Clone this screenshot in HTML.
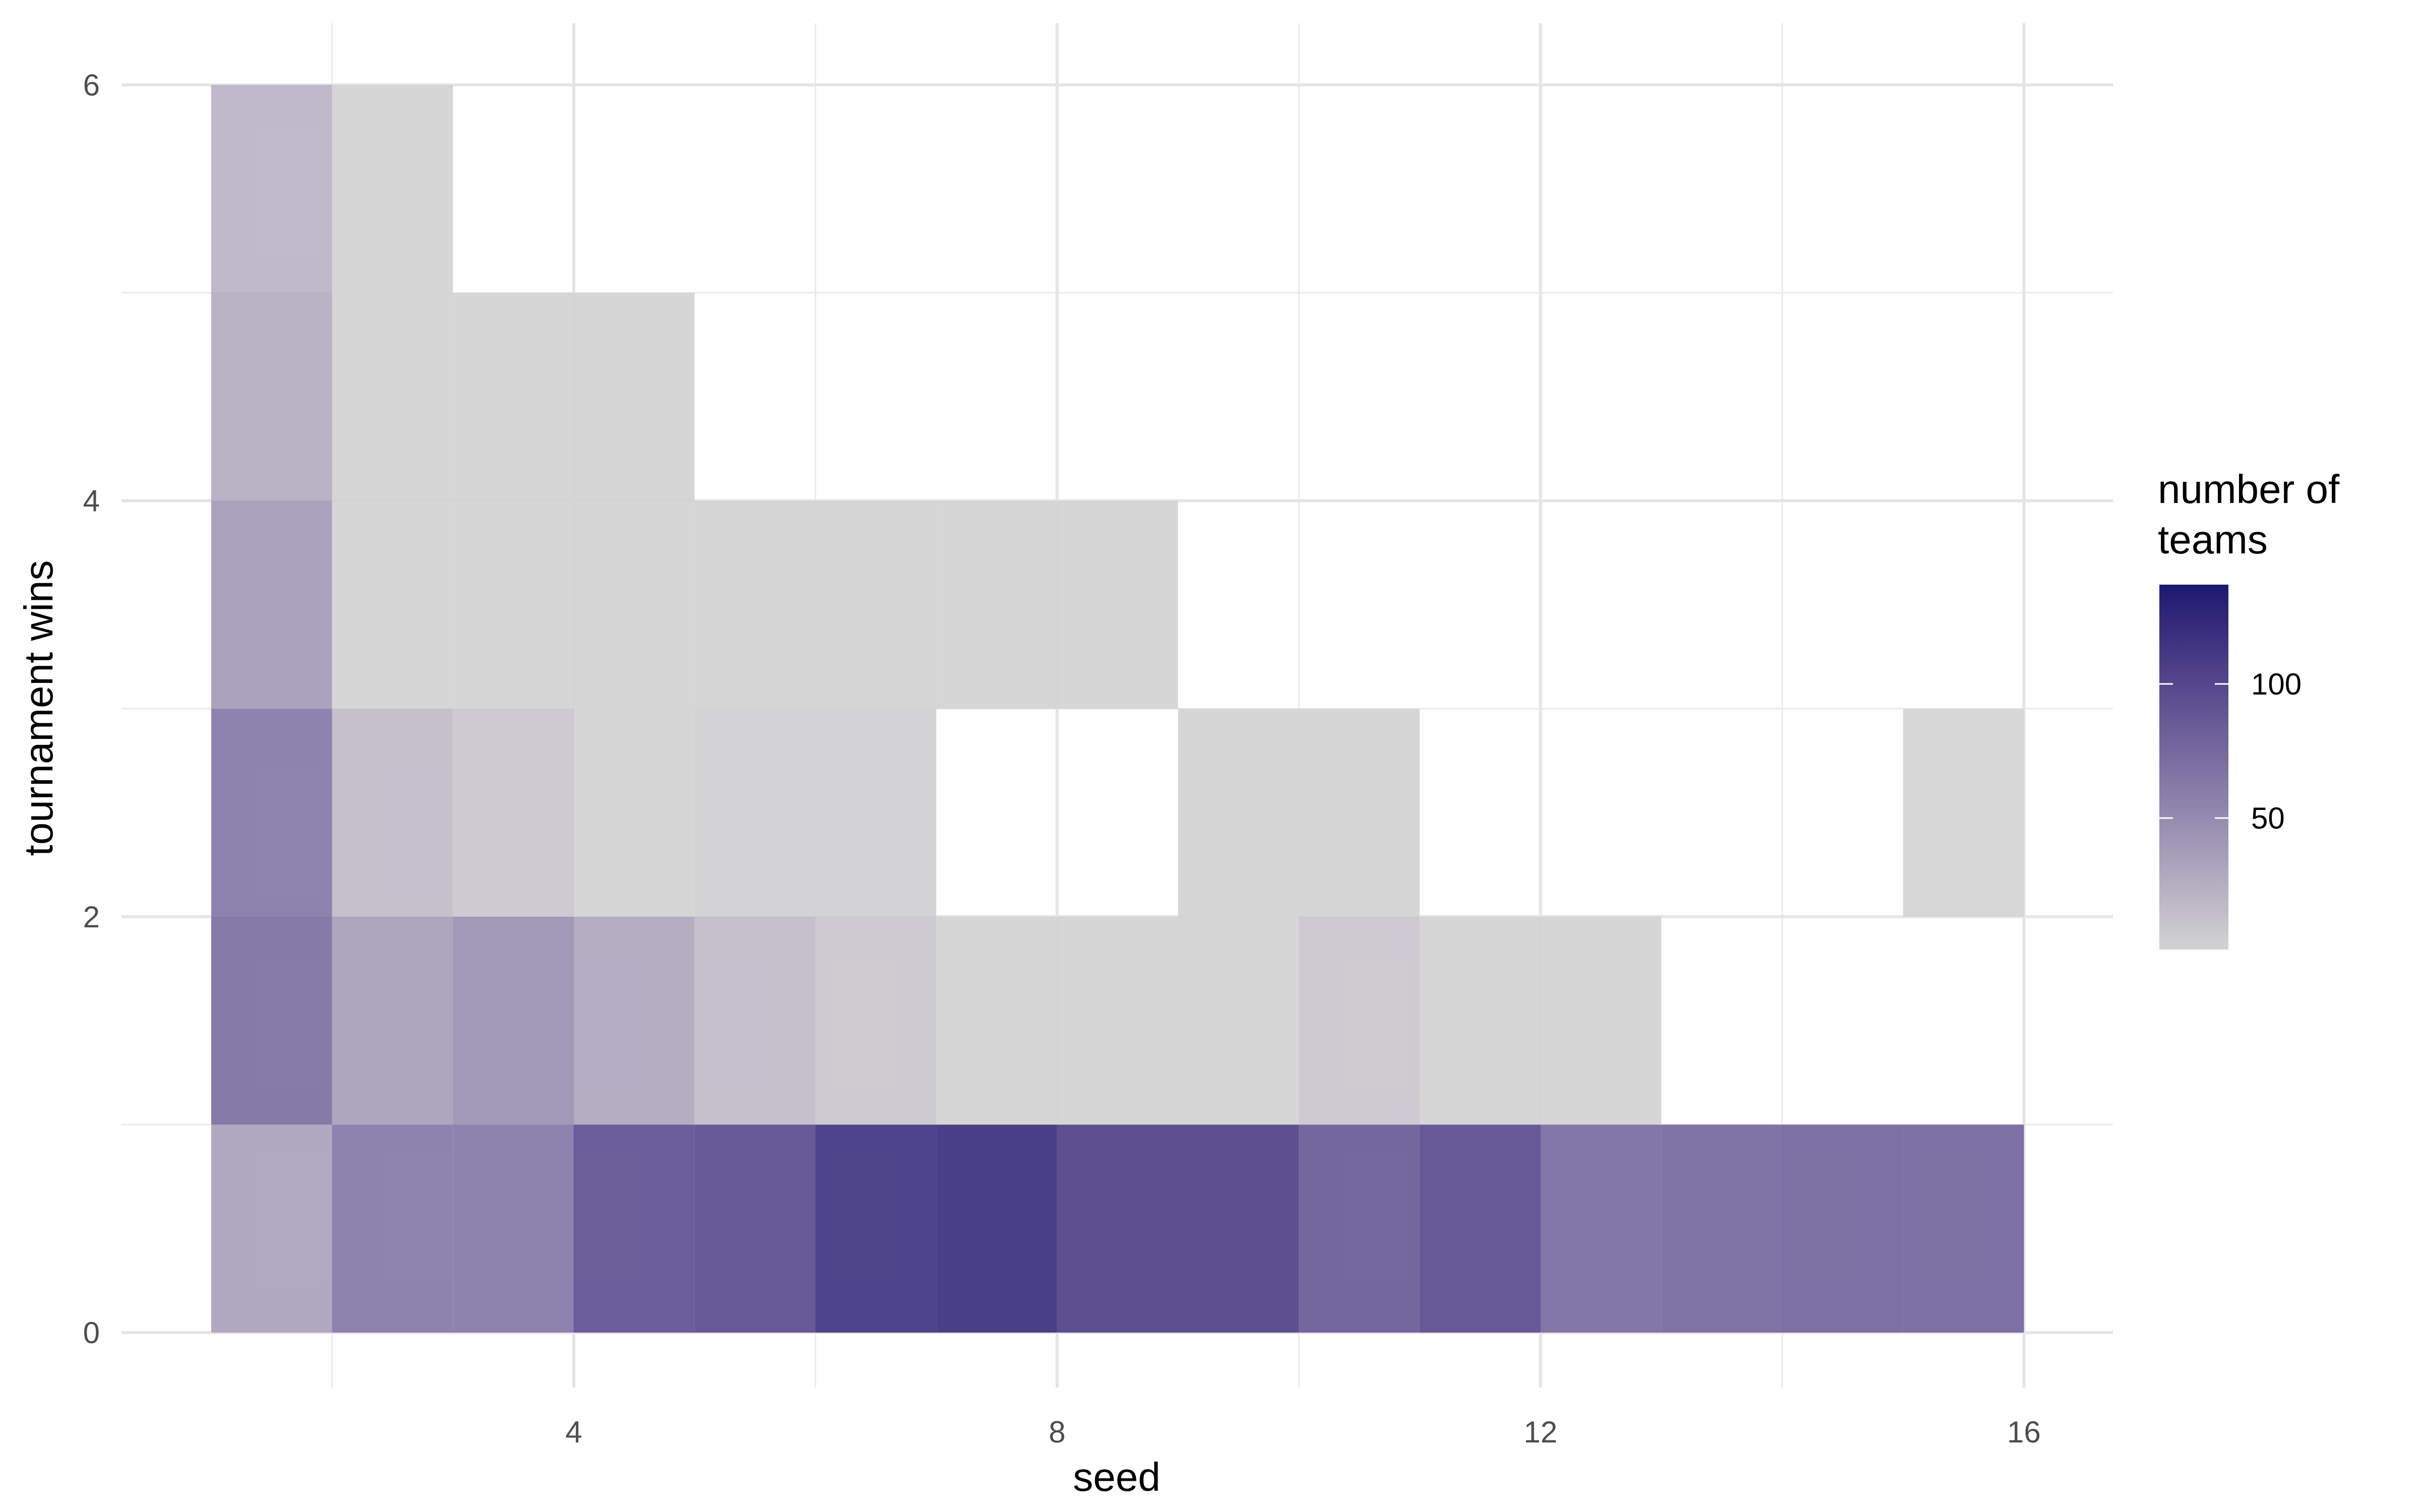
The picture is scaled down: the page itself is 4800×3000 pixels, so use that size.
<!DOCTYPE html>
<html><head><meta charset="utf-8"><style>
html,body{margin:0;padding:0;background:#fff}
svg{display:block}
text{font-family:"Liberation Sans",sans-serif}
</style></head><body>
<svg id="chart" width="4800" height="3000" viewBox="0 0 4800 3000" xmlns="http://www.w3.org/2000/svg">
<g id="grid"></g>
<g id="tiles"></g>
<g id="axes"></g>
<g id="legend"></g>
</svg>
<script>
// data: rows = tournament wins bins (0..5), columns = seed bins starting at 1
const seedStarts = [1,2,3,4,5,6,7,8,9,10,11,12,13,14,15];
const winsRow0 = [35,65,65,95,100,118,122,108,108,88,100,75,78,80,80];
const winsRow1 = [72,38,48,32,18,10,2,2,2,10,2,2,null,null,null];
const winsRow2 = [65,18,10,2,5,5,null,null,2,2,null,null,null,null,1];
const winsRow3 = [40,2,2,2,2,2,2,2,null,null,null,null,null,null,null];
const winsRow4 = [28,2,2,2,null,null,null,null,null,null,null,null,null,null,null];
const winsRow5 = [22,2,null,null,null,null,null,null,null,null,null,null,null,null,null];
const xTicks = [4,8,12,16];
const xMinor = [2,6,10,14];
const yTicks = [0,2,4,6];
const yMinor = [1,3,5];
const legendTicks = [50,100];
const fillMin = 1, fillMax = 137;

const NS="http://www.w3.org/2000/svg";
const X0=241,X1=4191,Y0=46,Y1=2753;
const xs = v => 1138 + (v-4)*239.7;
const ys = v => 2644 - v*412.6;
function mk(tag,attrs,parent){const e=document.createElementNS(NS,tag);for(const k in attrs)e.setAttribute(k,attrs[k]);parent.appendChild(e);return e;}
// Lab interpolation
function toLin(c){c/=255;return c<=0.04045?c/12.92:Math.pow((c+0.055)/1.055,2.4);}
function fromLin(c){c=c<=0.0031308?12.92*c:1.055*Math.pow(c,1/2.4)-0.055;return Math.max(0,Math.min(255,Math.round(c*255)));}
function rgb2lab(r,g,b){r=toLin(r);g=toLin(g);b=toLin(b);
let x=(r*0.4124+g*0.3576+b*0.1805)/0.95047,y=(r*0.2126+g*0.7152+b*0.0722),z=(r*0.0193+g*0.1192+b*0.9505)/1.08883;
const f=t=>t>0.008856?Math.cbrt(t):7.787*t+16/116;x=f(x);y=f(y);z=f(z);return [116*y-16,500*(x-y),200*(y-z)];}
function lab2rgb(L,a,b){let y=(L+16)/116,x=a/500+y,z=y-b/200;
const fi=t=>t*t*t>0.008856?t*t*t:(t-16/116)/7.787;x=fi(x)*0.95047;y=fi(y);z=fi(z)*1.08883;
const r=x*3.2406+y*-1.5372+z*-0.4986,g=x*-0.9689+y*1.8758+z*0.0415,bb=x*0.0557+y*-0.2040+z*1.0570;
return `rgb(${fromLin(r)},${fromLin(g)},${fromLin(bb)})`;}
const labLo=rgb2lab(211,211,211),labHi=rgb2lab(25,25,112);
function color(v){const t=Math.max(0,Math.min(1,(v-fillMin)/(fillMax-fillMin)));
return lab2rgb(labLo[0]+(labHi[0]-labLo[0])*t,labLo[1]+(labHi[1]-labLo[1])*t,labLo[2]+(labHi[2]-labLo[2])*t);}

const grid=document.getElementById('grid');
xMinor.forEach(v=>{const l=mk('line',{x1:xs(v),x2:xs(v),y1:Y0,y2:Y1,stroke:'#ebebeb','stroke-width':3},grid);
});
yMinor.forEach(v=>{const l=mk('line',{x1:X0,x2:X1,y1:ys(v),y2:ys(v),stroke:'#ebebeb','stroke-width':3},grid);
});
xTicks.forEach(v=>{const l=mk('line',{x1:xs(v),x2:xs(v),y1:Y0,y2:Y1,stroke:'#e5e5e5','stroke-width':6},grid);
});
yTicks.forEach(v=>{const l=mk('line',{x1:X0,x2:X1,y1:ys(v),y2:ys(v),stroke:'#e5e5e5','stroke-width':6},grid);
});

const tiles=document.getElementById('tiles');
[winsRow0,winsRow1,winsRow2,winsRow3,winsRow4,winsRow5].forEach((row,ri)=>{
 row.forEach((v,ci)=>{ if(v==null)return;
  const s=seedStarts[ci];
  const r=mk('rect',{x:xs(s),y:ys(ri+1),width:xs(s+1)-xs(s),height:ys(ri)-ys(ri+1),fill:color(v),'fill-opacity':0.9},tiles);
  
  
 });
});

const axes=document.getElementById('axes');
xTicks.forEach(v=>{const t=mk('text',{x:xs(v),y:2862,'font-size':60,fill:'#4d4d4d','text-anchor':'middle'},axes);t.textContent=v;
});
yTicks.forEach(v=>{const t=mk('text',{x:198,y:ys(v)+21,'font-size':60,fill:'#4d4d4d','text-anchor':'end'},axes);t.textContent=v;
});
let t=mk('text',{x:2215,y:2958,'font-size':80,fill:'#000','text-anchor':'middle'},axes);t.textContent='seed';

t=mk('text',{x:0,y:0,'font-size':80,fill:'#000','text-anchor':'middle',transform:'translate(104,1405) rotate(-90)'},axes);t.textContent='tournament wins';


const lg=document.getElementById('legend');
const defs=mk('defs',{},lg);
const grad=mk('linearGradient',{id:'lgrad',x1:0,y1:1,x2:0,y2:0},defs);
for(let i=0;i<=20;i++){const v=fillMin+(fillMax-fillMin)*i/20;mk('stop',{offset:(i/20),'stop-color':color(v)},grad);}
const LB0=1884,LB1=1160;
const ly=v=>LB0-(v-fillMin)/(fillMax-fillMin)*(LB0-LB1);
let r=mk('rect',{x:4283,y:LB1,width:137,height:LB0-LB1,fill:'url(#lgrad)'},lg);

legendTicks.forEach(v=>{
 let l=mk('line',{x1:4283,x2:4310,y1:ly(v),y2:ly(v),stroke:'#fff','stroke-width':3},lg);
 
 l=mk('line',{x1:4393,x2:4420,y1:ly(v),y2:ly(v),stroke:'#fff','stroke-width':3},lg);
 
 const tt=mk('text',{x:4465,y:ly(v)+21,'font-size':60,fill:'#000'},lg);tt.textContent=v;
 
});
t=mk('text',{x:4280,y:998,'font-size':80,fill:'#000'},lg);t.textContent='number of';

t=mk('text',{x:4280,y:1098,'font-size':80,fill:'#000'},lg);t.textContent='teams';

</script>
</body></html>
